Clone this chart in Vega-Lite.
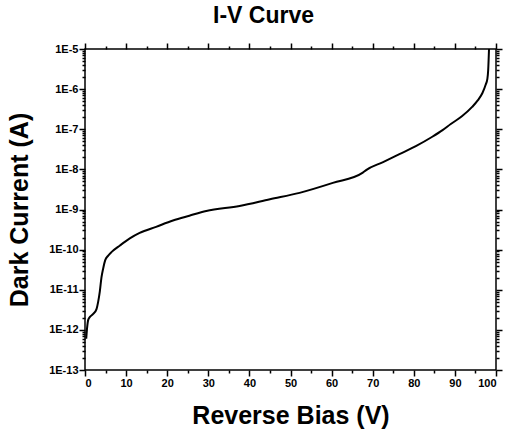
{
  "$schema": "https://vega.github.io/schema/vega-lite/v6.json",
  "width": 411,
  "height": 321,
  "autosize": "none",
  "padding": {"left": 85, "top": 49, "right": 9, "bottom": 62},
  "background": "white",
  "title": {"text": "I-V Curve", "font": "Liberation Sans", "fontSize": 23, "fontWeight": "bold", "color": "black", "anchor": "middle", "dx": -27, "offset": 14},
  "config": {
    "view": {"stroke": "black", "strokeWidth": 1.5},
    "axis": {"domain": false, "grid": false, "zindex": 1, "tickColor": "black", "tickWidth": 1.5, "labelFont": "Liberation Sans", "labelFontWeight": "bold", "labelFontSize": 11, "labelColor": "black", "titleFont": "Liberation Sans", "titleFontWeight": "bold", "titleFontSize": 25, "titleColor": "black"}
  },
  "data": {"values": [
    {"V": 0.3, "I": 6e-13}, {"V": 0.5, "I": 1.1e-12}, {"V": 0.8, "I": 1.8e-12}, {"V": 1.2, "I": 2.1e-12},
    {"V": 2.0, "I": 2.5e-12}, {"V": 2.8, "I": 3.3e-12}, {"V": 3.2, "I": 5e-12}, {"V": 3.6, "I": 9e-12},
    {"V": 4.0, "I": 2.0e-11}, {"V": 4.4, "I": 3.3e-11}, {"V": 4.9, "I": 5.4e-11}, {"V": 5.6, "I": 7e-11},
    {"V": 6.5, "I": 8.8e-11}, {"V": 8.5, "I": 1.27e-10}, {"V": 10.9, "I": 1.9e-10}, {"V": 13.3, "I": 2.6e-10},
    {"V": 17.3, "I": 3.7e-10}, {"V": 21.4, "I": 5.3e-10}, {"V": 25.4, "I": 7e-10}, {"V": 29.5, "I": 9.2e-10},
    {"V": 37.6, "I": 1.22e-9}, {"V": 45, "I": 1.8e-9}, {"V": 52.2, "I": 2.6e-9}, {"V": 60.3, "I": 4.6e-9},
    {"V": 67.6, "I": 8.3e-9}, {"V": 68.4, "I": 9.6e-9}, {"V": 72.4, "I": 1.5e-8}, {"V": 76.5, "I": 2.4e-8},
    {"V": 80.5, "I": 3.8e-8}, {"V": 84.5, "I": 6.5e-8}, {"V": 87, "I": 9.5e-8}, {"V": 89, "I": 1.35e-7},
    {"V": 91.7, "I": 2.1e-7}, {"V": 94.2, "I": 3.6e-7}, {"V": 95.6, "I": 5.3e-7}, {"V": 96.7, "I": 8e-7},
    {"V": 97.5, "I": 1.3e-6}, {"V": 97.9, "I": 1.8e-6}, {"V": 98.1, "I": 3e-6}, {"V": 98.3, "I": 1e-5}
  ]},
  "resolve": {"axis": {"x": "independent", "y": "independent"}},
  "layer": [
    {
      "mark": {"type": "line", "color": "black", "strokeWidth": 2, "interpolate": "monotone", "clip": true},
      "encoding": {
        "x": {"field": "V", "type": "quantitative", "scale": {"domain": [0, 100], "nice": false},
          "axis": {"orient": "bottom", "values": [0,10,20,30,40,50,60,70,80,90,100], "tickSize": 6, "labelPadding": 1, "title": "Reverse Bias (V)", "titlePadding": 15}},
        "y": {"field": "I", "type": "quantitative", "scale": {"type": "log", "domain": [1e-13, 1e-5], "nice": false},
          "axis": {"orient": "left", "values": [1e-13,1e-12,1e-11,1e-10,1e-9,1e-8,1e-7,1e-6,1e-5], "tickSize": 6, "labelPadding": 1, "labelExpr": "'1E' + round(log(datum.value)/LN10)", "title": "Dark Current (A)", "titlePadding": 16}}
      }
    },
    {
      "mark": {"type": "line", "strokeOpacity": 0},
      "encoding": {
        "x": {"field": "V", "type": "quantitative", "axis": {"orient": "top", "values": [0,10,20,30,40,50,60,70,80,90,100], "tickSize": 6, "labels": false, "title": null}},
        "y": {"field": "I", "type": "quantitative", "axis": {"orient": "right", "values": [1e-13,1e-12,1e-11,1e-10,1e-9,1e-8,1e-7,1e-6,1e-5], "tickSize": 6, "labels": false, "title": null}}
      }
    },
    {
      "mark": {"type": "line", "strokeOpacity": 0},
      "encoding": {
        "x": {"field": "V", "type": "quantitative", "axis": {"orient": "bottom", "values": [5,15,25,35,45,55,65,75,85,95], "tickSize": 3, "labels": false, "title": null}},
        "y": {"field": "I", "type": "quantitative", "axis": {"orient": "left", "values": [2e-13,3e-13,4e-13,5e-13,6e-13,7e-13,8e-13,9e-13,2e-12,3e-12,4e-12,5e-12,6e-12,7e-12,8e-12,9e-12,2e-11,3e-11,4e-11,5e-11,6e-11,7e-11,8e-11,9e-11,2e-10,3e-10,4e-10,5e-10,6e-10,7e-10,8e-10,9e-10,2e-9,3e-9,4e-9,5e-9,6e-9,7e-9,8e-9,9e-9,2e-8,3e-8,4e-8,5e-8,6e-8,7e-8,8e-8,9e-8,2e-7,3e-7,4e-7,5e-7,6e-7,7e-7,8e-7,9e-7,2e-6,3e-6,4e-6,5e-6,6e-6,7e-6,8e-6,9e-6], "tickSize": 3, "labels": false, "title": null}}
      }
    },
    {
      "mark": {"type": "line", "strokeOpacity": 0},
      "encoding": {
        "x": {"field": "V", "type": "quantitative", "axis": {"orient": "top", "values": [5,15,25,35,45,55,65,75,85,95], "tickSize": 3, "labels": false, "title": null}},
        "y": {"field": "I", "type": "quantitative", "axis": {"orient": "right", "values": [2e-13,3e-13,4e-13,5e-13,6e-13,7e-13,8e-13,9e-13,2e-12,3e-12,4e-12,5e-12,6e-12,7e-12,8e-12,9e-12,2e-11,3e-11,4e-11,5e-11,6e-11,7e-11,8e-11,9e-11,2e-10,3e-10,4e-10,5e-10,6e-10,7e-10,8e-10,9e-10,2e-9,3e-9,4e-9,5e-9,6e-9,7e-9,8e-9,9e-9,2e-8,3e-8,4e-8,5e-8,6e-8,7e-8,8e-8,9e-8,2e-7,3e-7,4e-7,5e-7,6e-7,7e-7,8e-7,9e-7,2e-6,3e-6,4e-6,5e-6,6e-6,7e-6,8e-6,9e-6], "tickSize": 3, "labels": false, "title": null}}
      }
    }
  ]
}
